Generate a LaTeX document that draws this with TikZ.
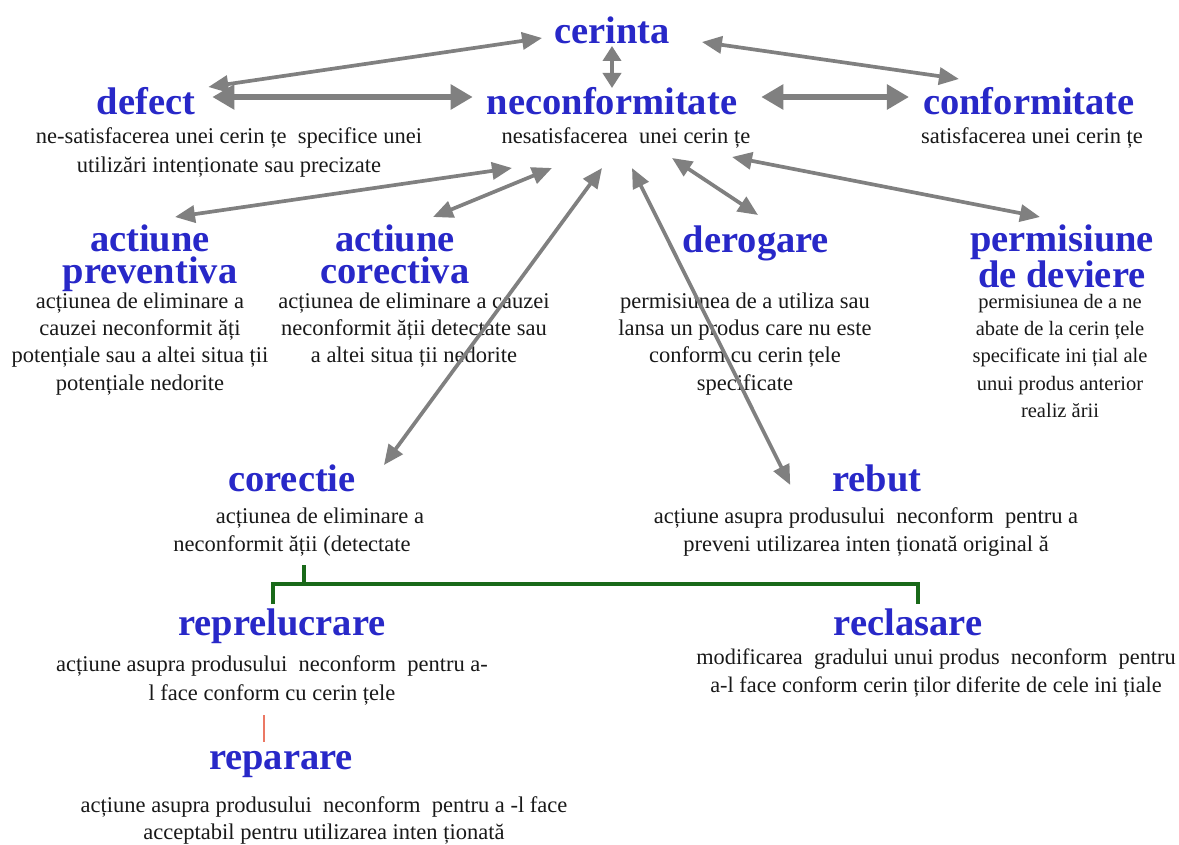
\documentclass[tikz,border=0pt]{standalone}
\usepackage{fontspec}
\setmainfont{Liberation Serif}
\usetikzlibrary{arrows.meta,calc}

\definecolor{titleblue}{RGB}{40,40,200}
\definecolor{arrowgray}{RGB}{128,128,128}
\definecolor{bracketgreen}{RGB}{25,105,25}
\definecolor{linkred}{RGB}{235,120,100}
\definecolor{bodytext}{RGB}{25,25,25}

% fixed first-line heights, so that the north anchor sits a known distance above the first baseline
\newcommand\termstrut{\rule{0pt}{32pt}}
\newcommand\glossstrut{\rule{0pt}{18pt}}

\begin{document}
\begin{tikzpicture}[x=1pt,y=-1pt,
  term/.style={align=center, inner sep=0pt, anchor=north, text=titleblue,
    font=\bfseries\fontsize{38.5}{32}\selectfont},
  gloss/.style={align=center, inner sep=0pt, anchor=north, text=bodytext,
    font=\fontsize{22.5}{27.4}\selectfont},
  link/.style={draw=arrowgray, line width=3.7pt,
    {Triangle[length=20pt,width=17pt]}-{Triangle[length=20pt,width=17pt]}},
  biglink/.style={draw=arrowgray, line width=6pt,
    {Triangle[length=22pt,width=24pt]}-{Triangle[length=22pt,width=24pt]}},
  shortlink/.style={draw=arrowgray, line width=4.5pt,
    {Triangle[length=15pt,width=18pt]}-{Triangle[length=15pt,width=18pt]}},
  bracket/.style={draw=bracketgreen, line width=4pt},
  redlink/.style={draw=linkred, line width=1.2pt},
]
\fill[white] (0,0) rectangle (1179,845);
\useasboundingbox (0,0) rectangle (1179,845);

% ---- terms ----
\node[term] (cerinta) at (612,11)  {\termstrut cerinta};
\node[term] (defect)  at (146,82)  {\termstrut defect};
\node[term] (neconf)  at (612,82)  {\termstrut neconformitate};
\node[term] (conf)    at (1029,82) {\termstrut conformitate};
\node[term] (prev)    at (150,219) {\termstrut actiune\\preventiva};
\node[term] (corv)    at (395,219) {\termstrut actiune\\corectiva};
\node[term] (derog)   at (756,220) {\termstrut derogare};
\node[term] (perm)    at (1062,219) {\termstrut permisiune\\de deviere};
\node[term] (corectie) at (292,459) {\termstrut corectie};
\node[term] (rebut)   at (877,459) {\termstrut rebut};
\node[term] (reprel)  at (282,603) {\termstrut reprelucrare};
\node[term] (reclas)  at (908,603) {\termstrut reclasare};
\node[term] (repar)   at (281,737) {\termstrut reparare};

% ---- definitions ----
\node[gloss, font=\fontsize{22.5}{29}\selectfont] (gdefect) at (229,125)
  {\glossstrut ne-satisfacerea unei cerin țe\ \ specifice unei\\utilizări intenționate sau precizate};
\node[gloss] (gneconf) at (626,125) {\glossstrut nesatisfacerea\ \ unei cerin țe};
\node[gloss] (gconf)   at (1032,125) {\glossstrut satisfacerea unei cerin țe};
\node[gloss] (gprev) at (140,290)
  {\glossstrut acțiunea de eliminare a\\cauzei neconformit ăți\\potențiale sau a altei situa ții\\potențiale nedorite};
\node[gloss] (gcorv) at (414,290)
  {\glossstrut acțiunea de eliminare a cauzei\\neconformit ății detectate sau\\a altei situa ții nedorite};
\node[gloss] (gderog) at (745,290)
  {\glossstrut permisiunea de a utiliza sau\\lansa un produs care nu este\\conform cu cerin țele\\specificate};
\node[gloss, font=\fontsize{20.5}{27.3}\selectfont] (gperm) at (1060,290)
  {\glossstrut permisiunea de a ne\\abate de la cerin țele\\specificate ini țial ale\\unui produs anterior\\realiz ării};
\node[gloss, font=\fontsize{22.5}{28}\selectfont] (gcorectie) at (292,505)
  {\glossstrut\hspace*{56pt}acțiunea de eliminare a\\neconformit ății (detectate};
\node[gloss, font=\fontsize{22.5}{28}\selectfont] (grebut) at (866,505)
  {\glossstrut acțiune asupra produsului\ \ neconform\ \ pentru a\\preveni utilizarea inten ționată original ă};
\node[gloss, font=\fontsize{22.5}{29}\selectfont] (greprel) at (272,653)
  {\glossstrut acțiune asupra produsului\ \ neconform\ \ pentru a-\\l face conform cu cerin țele};
\node[gloss, font=\fontsize{22.3}{28}\selectfont] (greclas) at (936,646)
  {\glossstrut modificarea\ \ gradului unui produs\ \ neconform\ \ pentru\\a-l face conform cerin ților diferite de cele ini țiale};
\node[gloss, font=\fontsize{22.5}{27}\selectfont] (grepar) at (324,794)
  {\glossstrut acțiune asupra produsului\ \ neconform\ \ pentru a -l face\\acceptabil pentru utilizarea inten ționată};

% ---- relations around the central term ----
\draw[link] ([shift={(13,5)}]defect.north east) -- ([shift={(-12,27)}]cerinta.north west);
\draw[biglink] ([shift={(17,15)}]defect.north east) -- ([shift={(-14,15)}]neconf.north west);
\draw[shortlink] ([shift={(0,35)}]cerinta.north) -- ([shift={(0,6)}]neconf.north);
\draw[link] ([shift={(32,31)}]cerinta.north east) -- ([shift={(36,-3)}]conf.north west);
\draw[biglink] ([shift={(24,15)}]neconf.north east) -- ([shift={(-14,15)}]conf.north west);

\draw[link] ([shift={(25,-2)}]prev.north) -- ([shift={(-114,43)}]gneconf.north);
\draw[link] ([shift={(38,-2)}]corv.north) -- ([shift={(-74,43)}]gneconf.north);
\draw[link] ([shift={(28,6)}]corectie.north east) -- ([shift={(-24,43)}]gneconf.north);
\draw[link] ([shift={(-42,26)}]rebut.north west) -- ([shift={(6,43)}]gneconf.north);
\draw[link] ([shift={(2,-5)}]derog.north) -- ([shift={(46,33)}]gneconf.north);
\draw[link] ([shift={(-22,-2)}]perm.north) -- ([shift={(106,32)}]gneconf.north);

% ---- split of the correction into rework and regrading ----
\draw[bracket] ([shift={(12,106)}]corectie.north) -- ++(0,20);
\draw[bracket] ([shift={(-9,1)}]reprel.north) -- ++(0,-20) -| ([shift={(10,1)}]reclas.north);

% ---- rework / repair ----
\draw[redlink] ([shift={(-17,-22)}]repar.north) -- ([shift={(-17,5)}]repar.north);
\end{tikzpicture}
\end{document}
